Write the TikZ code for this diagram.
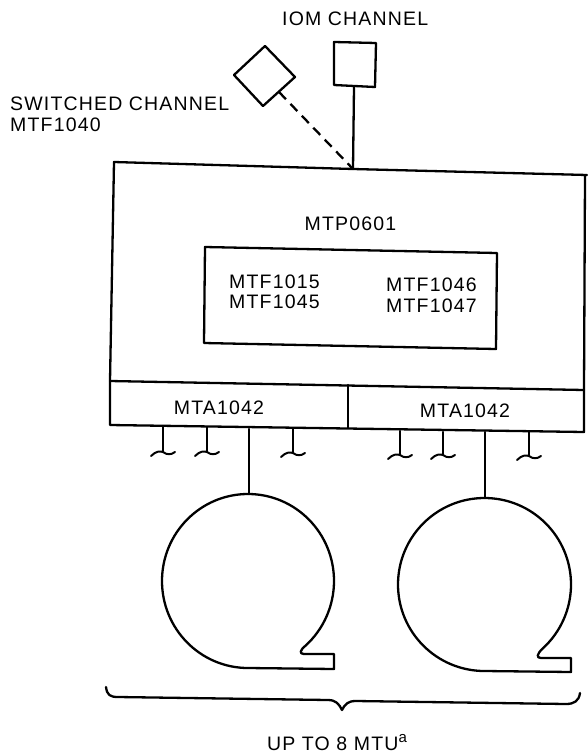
\documentclass[tikz,border=0pt]{standalone}
\usepackage{fontspec}
\setmainfont[LetterSpace=6]{Liberation Sans}
\usetikzlibrary{calc}
\tikzset{
  ln/.style={draw=black,line width=2.3pt,line join=round,line cap=round},
  dashln/.style={draw=black,line width=2.3pt,dash pattern=on 10pt off 6.5pt},
  lbl/.style={inner sep=0pt,font=\fontsize{19.5}{22}\selectfont,text=black,anchor=base},
  lblleft/.style={lbl,anchor=base west},
}
\newcommand{\swash}[1]{\draw[ln,line width=2pt] ($(#1)+(-12,4)$) .. controls ($(#1)+(-7,-1)$) and ($(#1)+(-3,-1)$) .. (#1) .. controls ($(#1)+(4,3)$) and ($(#1)+(8,3)$) .. ($(#1)+(12,0)$);}
\begin{document}
\begin{tikzpicture}[x=1pt,y=-1pt]
\useasboundingbox (0,0) rectangle (587,755);
% main box
\coordinate (tl) at (114,162); \coordinate (tr) at (587,175);
\coordinate (ml) at (110,381); \coordinate (mr) at (584,390);
\coordinate (bl) at (110,425); \coordinate (br) at (584,432);
\coordinate (tj) at (353,169);
\draw[ln] (tr) -- (tj) -- (tl) -- (ml) -- (bl) -- (br) -- (mr) -- (585,176);
\draw[ln] (ml) -- (mr);
\coordinate (dt) at (348,385); \coordinate (db) at (348,428);
\draw[ln] (dt) -- (db);
% inner box
\coordinate (i1) at (205,247); \coordinate (i2) at (497,253); \coordinate (i3) at (496,349); \coordinate (i4) at (204,343);
\draw[ln] (i1) -- (i2) -- (i3) -- (i4) -- cycle;
% square and diamond
\coordinate (s1) at (334,42); \coordinate (s2) at (376,43); \coordinate (s3) at (375,87); \coordinate (s4) at (334,85);
\draw[ln] (s1) -- (s2) -- (s3) -- (s4) -- cycle;
\coordinate (sb) at (354,87);
\draw[ln] (sb) -- (tj);
\coordinate (d1) at (265,46); \coordinate (d2) at (295,77); \coordinate (d3) at (263,106); \coordinate (d4) at (234,75);
\draw[ln] (d1) -- (d2) -- (d3) -- (d4) -- cycle;
\coordinate (db2) at (279,92);
\draw[dashln] (db2) -- (tj);
% stubs
\foreach \n/\x/\a/\b in {a/163/426/452,b/207/427/452,c/293/429/453,d/400/431/455,e/443/432/455,f/529/432/456}{
  \coordinate (st\n) at (\x,\a); \coordinate (en\n) at (\x,\b);
  \draw[ln] (st\n) -- (en\n);
  \swash{en\n}
}
% tape units
\coordinate (ta) at (249,429); \coordinate (tb) at (249,494);
\draw[ln] (ta) -- (tb);
\coordinate (ua) at (485,432); \coordinate (ub) at (485,498);
\draw[ln] (ua) -- (ub);
\draw[ln] (248,668) arc[start angle=270,end angle=-48,x radius=86,y radius=-87]
  .. controls (300,650) and (299,654) .. (304,654) -- (334,654) -- (334,669) -- cycle;
\draw[ln] (484.5,671) arc[start angle=270,end angle=-48,x radius=86.5,y radius=-86.5]
  .. controls (537,654) and (536,658) .. (541,658) -- (571,658) -- (571,672) -- cycle;
% brace
\draw[ln] (106,687) .. controls (107,695) and (110,697) .. (118,697) -- (328,700) .. controls (336,700) and (339,704) .. (342,710) .. controls (345,704) and (348,701) .. (356,701) -- (566,704) .. controls (574,704) and (579,701) .. (580,693);
% text
\node[lblleft] (iom) at (282,25) {IOM CHANNEL};
\node[lblleft] (sw) at (10,110) {SWITCHED CHANNEL};
\node[lblleft] (mf) at (10,131) {MTF1040};
\node[lbl] (mtp) at (350.5,230) {MTP0601};
\node[lblleft] (f15) at (229,288) {MTF1015};
\node[lblleft] (f45) at (229,308) {MTF1045};
\node[lblleft] (f46) at (386,291) {MTF1046};
\node[lblleft] (f47) at (386,312) {MTF1047};
\node[lbl] (a1) at (219,414) {MTA1042};
\node[lbl] (a2) at (465,417) {MTA1042};
\node[lbl] (up) at (337,750) {UP TO 8 MTU\raisebox{7.5pt}{\fontsize{15}{15}\selectfont a}};
\end{tikzpicture}
\end{document}
